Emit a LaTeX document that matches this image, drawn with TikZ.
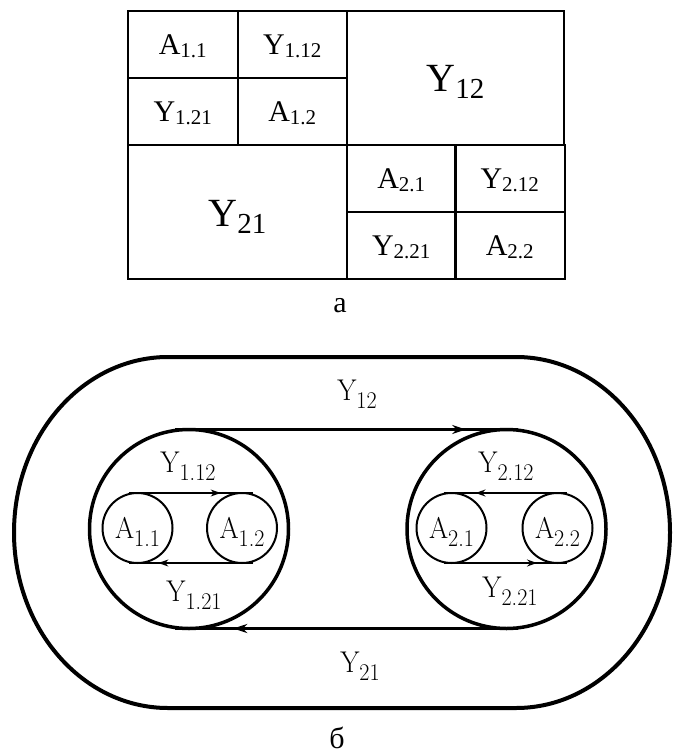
\documentclass[tikz,border=0pt]{standalone}
\usepackage{fontspec}
\usepackage{graphicx}
\usetikzlibrary{arrows.meta,decorations.markings}
\newfontfamily\tnr{Liberation Serif}
\newcommand\tsmall[2]{{\tnr\fontsize{30}{30}\selectfont #1\raisebox{-3pt}{\fontsize{21}{21}\selectfont #2}}}
\newcommand\tbig[2]{{\tnr\fontsize{40}{40}\selectfont #1\raisebox{-7pt}{\fontsize{29}{29}\selectfont #2}}}
\newcommand\blab[2]{\scalebox{0.92}[1]{\fontsize{30}{30}\selectfont #1\raisebox{-8pt}{\fontsize{24}{24}\selectfont #2}}}
\tikzset{
  cell/.style={draw, line width=2, rectangle, minimum width=109.5, minimum height=67,
    inner sep=0, outer sep=0, text height=20, text depth=0},
  bigcell/.style={cell, text height=28},
  bigcirc/.style={draw, circle, line width=3.5, minimum size=199, inner sep=0, outer sep=0},
  smallcirc/.style={draw, circle, line width=2, minimum size=70, inner sep=0, outer sep=0,
    text height=20.5, text depth=0},
  lab/.style={inner sep=0, outer sep=0, text height=20.5, text depth=0},
  bigconn/.style={line width=2.5, decoration={markings, mark=at position #1 with {\arrow{Stealth[length=14,width=9]}}}, postaction=decorate},
  smallconn/.style={line width=1.4, decoration={markings, mark=at position #1 with {\arrow{Stealth[length=10,width=7]}}}, postaction=decorate},
  caption/.style={inner sep=0, font=\tnr\fontsize{30}{30}\selectfont}
}
\begin{document}
\begin{tikzpicture}[x=1pt,y=-1pt]
\useasboundingbox (0,0) rectangle (673,754);
% table a
\node[cell] (c11) at (182.75,44.5) {\tsmall{A}{1.1}};
\node[cell] (c12) at (292.25,44.5) {\tsmall{Y}{1.12}};
\node[cell] (c21) at (182.75,111.5) {\tsmall{Y}{1.21}};
\node[cell] (c22) at (292.25,111.5) {\tsmall{A}{1.2}};
\node[bigcell, minimum width=217, minimum height=134] (y12) at (455.5,78) {\tbig{Y}{12}};
\node[bigcell, minimum width=219, minimum height=134] (y21) at (237.5,212) {\tbig{Y}{21}};
\node[cell] (d11) at (401.25,178.5) {\tsmall{A}{2.1}};
\node[cell] (d12) at (509.75,178.5) {\tsmall{Y}{2.12}};
\node[cell] (d21) at (401.25,245.5) {\tsmall{Y}{2.21}};
\node[cell] (d22) at (509.75,245.5) {\tsmall{A}{2.2}};
\node[caption] (capa) at (340,306) {а};
% figure b
\draw[line width=4] (168,357) -- (516,357)
  arc[start angle=-90, end angle=90, x radius=154, y radius=175.5]
  -- (168,708)
  arc[start angle=90, end angle=270, x radius=154, y radius=175.5] -- cycle;
\node[bigcirc] (L) at (189,529) {};
\node[bigcirc] (R) at (506.5,529) {};
\node[smallcirc] (a11) at (137.5,528) {\blab{A}{1.1}};
\node[smallcirc] (a12) at (242,528) {\blab{A}{1.2}};
\node[smallcirc] (a21) at (451.5,528) {\blab{A}{2.1}};
\node[smallcirc] (a22) at (557.5,528) {\blab{A}{2.2}};
\draw[bigconn=0.85] ([xshift=-14]L.north) -- ([xshift=11]R.north);
\draw[bigconn=0.83] ([xshift=11]R.south) -- ([xshift=-14]L.south);
\draw[smallconn=0.74] ([xshift=-9]a11.north) -- ([xshift=11]a12.north);
\draw[smallconn=0.76] ([xshift=11]a12.south) -- ([xshift=-9]a11.south);
\draw[smallconn=0.74] ([xshift=9]a22.north) -- ([xshift=-8]a21.north);
\draw[smallconn=0.76] ([xshift=-8]a21.south) -- ([xshift=9]a22.south);
\node[lab] (ly12) at (357,390) {\blab{Y}{12}};
\node[lab] (ly21) at (360,662) {\blab{Y}{21}};
\node[lab] (ly112) at (188,462) {\blab{Y}{1.12}};
\node[lab] (ly121) at (194,591) {\blab{Y}{1.21}};
\node[lab] (ly212) at (506,462) {\blab{Y}{2.12}};
\node[lab] (ly221) at (510,587) {\blab{Y}{2.21}};
\node[caption] (capb) at (337,738) {б};
\end{tikzpicture}
\end{document}
